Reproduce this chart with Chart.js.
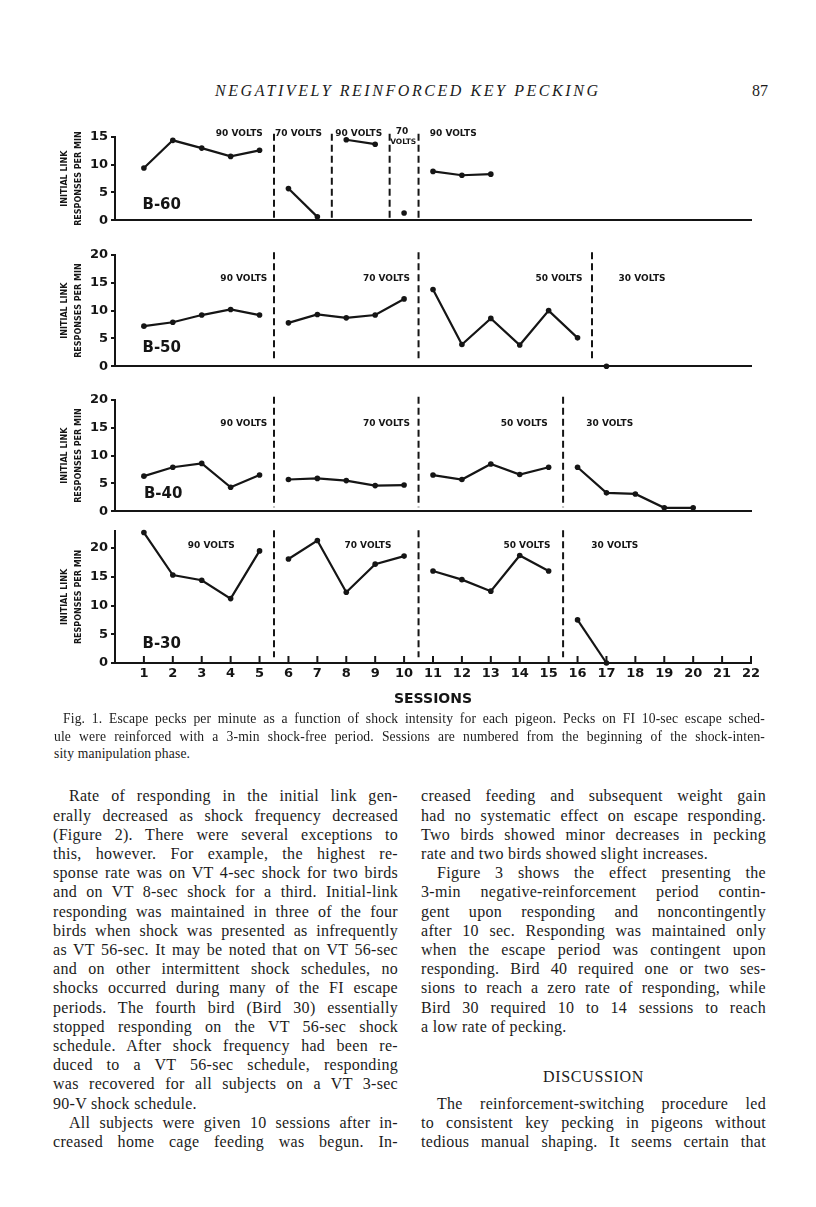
<!DOCTYPE html>
<html>
<head>
<meta charset="utf-8">
<script src="https://cdn.jsdelivr.net/npm/chart.js@4.4.1/dist/chart.umd.min.js"></script>
<style>
  body { margin: 0; background: #fff; }
  #page { position: relative; width: 816px; height: 1207px; overflow: hidden; background: #fff; color: #1b1b1b; font-family: "Liberation Serif", serif; }
  #page canvas { position: absolute; left: 0; }
  .ln { position: absolute; white-space: nowrap; }
  #runhead { position: absolute; left: 215px; top: 80px; font-style: italic; font-size: 16px; line-height: 22px; white-space: nowrap; }
  #folio { position: absolute; right: 48px; top: 80px; font-size: 16px; line-height: 22px; }
  #discussion { position: absolute; left: 421px; width: 345px; top: 1067px; text-align: center; font-size: 16px; letter-spacing: 0.7px; line-height: 20px; }
</style>
</head>
<body>
<div id="page">
  <div id="runhead">NEGATIVELY REINFORCED KEY PECKING</div>
  <div id="folio">87</div>
  <div id="discussion">DISCUSSION</div>
</div>
<script>
// Fig. 1 data: escape pecks per minute
const sessions = [1, 2, 3, 4, 5, 6, 7, 8, 9, 10, 11, 12, 13, 14, 15, 16, 17, 18, 19, 20, 21, 22];
const ticks15 = [0, 5, 10, 15];
const ticks20 = [0, 5, 10, 15, 20];

const b60Rate = [9.4, 14.4, 13.0, 11.5, 12.6, 5.7, 0.6, 14.5, 13.7, 1.3, 8.8, 8.1, 8.3];
const b50Rate = [7.2, 7.9, 9.2, 10.2, 9.2, 7.8, 9.3, 8.7, 9.2, 12.1, 13.8, 3.9, 8.6, 3.8, 10.0, 5.1, 0];
const b40Rate = [6.3, 7.9, 8.6, 4.3, 6.5, 5.7, 5.9, 5.5, 4.6, 4.7, 6.5, 5.7, 8.5, 6.6, 7.9, 7.9, 3.3, 3.1, 0.6, 0.6];
const b30Rate = [22.7, 15.3, 14.4, 11.2, 19.5, 18.1, 21.3, 12.3, 17.2, 18.6, 16.0, 14.5, 12.5, 18.7, 16.0, 7.5, 0];

// shock-intensity changes (dashed lines fall between sessions)
const b60Changes = [5.5, 7.5, 9.5, 10.5];
const b50Changes = [5.5, 10.5, 16.5];
const b40Changes = [5.5, 10.5, 15.5];
const b30Changes = [5.5, 10.5, 15.5];

const INK = '#151515';
Chart.defaults.font.family = '"DejaVu Sans", sans-serif';
Chart.defaults.color = INK;

const panels = [
  { name: 'B-60', values: b60Rate, changes: b60Changes, yMax: 15, yTicks: ticks15,
    top: 100, chartTop: 137, chartBottom: 225, dash: [15.6, 0.4], nameAt: [0.95, 2.7],
    volts: [
      { t: '90 VOLTS', x: 4.3, y: 15.6 }, { t: '70 VOLTS', x: 6.35, y: 15.6 },
      { t: '90 VOLTS', x: 8.43, y: 15.6 }, { t: '70', x: 9.93, y: 15.9 },
      { t: 'VOLTS', x: 9.97, y: 14.0, size: 7.5 }, { t: '90 VOLTS', x: 11.7, y: 15.6 }
    ] },
  { name: 'B-50', values: b50Rate, changes: b50Changes, yMax: 20, yTicks: ticks20,
    top: 235, chartTop: 255, chartBottom: 371, dash: [20.5, 0.9], nameAt: [0.95, 3.3],
    volts: [
      { t: '90 VOLTS', x: 5.27, y: 15.7, align: 'right' }, { t: '70 VOLTS', x: 10.2, y: 15.7, align: 'right' },
      { t: '50 VOLTS', x: 16.17, y: 15.7, align: 'right' }, { t: '30 VOLTS', x: 17.42, y: 15.7, align: 'left' }
    ] },
  { name: 'B-40', values: b40Rate, changes: b40Changes, yMax: 20, yTicks: ticks20,
    top: 382, chartTop: 400, chartBottom: 516, dash: [20.6, 0.7], nameAt: [1.0, 3.0],
    volts: [
      { t: '90 VOLTS', x: 5.27, y: 15.7, align: 'right' }, { t: '70 VOLTS', x: 10.2, y: 15.7, align: 'right' },
      { t: '50 VOLTS', x: 14.97, y: 15.7, align: 'right' }, { t: '30 VOLTS', x: 16.3, y: 15.7, align: 'left' }
    ] },
  { name: 'B-30', values: b30Rate, changes: b30Changes, yMax: 23, yTicks: ticks20,
    top: 520, chartTop: 529, chartBottom: 663, dash: [23.1, 1.0], nameAt: [0.95, 3.25], last: true,
    volts: [
      { t: '90 VOLTS', x: 3.33, y: 20.5 }, { t: '70 VOLTS', x: 8.75, y: 20.5 },
      { t: '50 VOLTS', x: 14.25, y: 20.5 }, { t: '30 VOLTS', x: 17.29, y: 20.5 }
    ] }
];

function marksPlugin(p) {
  return {
    id: 'marks',
    afterDatasetsDraw(chart) {
      const { ctx, scales: { x, y } } = chart;
      ctx.save();
      ctx.strokeStyle = INK;
      ctx.fillStyle = INK;
      // dashed condition boundaries
      ctx.lineWidth = 2;
      ctx.setLineDash([7, 4]);
      p.changes.forEach(c => {
        const px = x.getPixelForValue(c);
        ctx.beginPath();
        ctx.moveTo(px, y.getPixelForValue(p.dash[0]));
        ctx.lineTo(px, y.getPixelForValue(p.dash[1]));
        ctx.stroke();
      });
      ctx.setLineDash([]);
      // voltage labels
      ctx.textBaseline = 'middle';
      p.volts.forEach(v => {
        ctx.font = 'bold ' + (v.size || 9) + 'px "DejaVu Sans"';
        ctx.textAlign = v.align || 'center';
        ctx.fillText(v.t, x.getPixelForValue(v.x), y.getPixelForValue(v.y));
      });
      // bird label
      ctx.font = 'bold 15px "DejaVu Sans"';
      ctx.textAlign = 'left';
      ctx.fillText(p.name, x.getPixelForValue(p.nameAt[0]), y.getPixelForValue(p.nameAt[1]));
      // session ticks point up into the plot
      if (p.last) {
        ctx.lineWidth = 2;
        x.ticks.forEach(t => {
          const px = x.getPixelForValue(t.value);
          ctx.beginPath();
          ctx.moveTo(px, y.bottom);
          ctx.lineTo(px, y.bottom - 7);
          ctx.stroke();
        });
      }
      ctx.restore();
    }
  };
}

const page = document.getElementById('page');

panels.forEach(p => {
  const height = p.last ? 195 : p.chartBottom - p.top + 6;
  const xHeight = p.last ? height - (p.chartBottom - p.top) : 6;
  const cv = document.createElement('canvas');
  cv.width = 816;
  cv.height = height;
  cv.style.top = p.top + 'px';
  page.appendChild(cv);

  const crosses = c => p.changes.some(d => c.p0.parsed.x < d && c.p1.parsed.x > d);

  new Chart(cv, {
    type: 'line',
    data: {
      datasets: [{
        data: p.values.map((v, i) => ({ x: sessions[i], y: v })),
        borderColor: INK,
        borderWidth: 2.2,
        pointRadius: 2.8,
        pointBackgroundColor: INK,
        pointBorderWidth: 0,
        tension: 0,
        clip: false,
        segment: { borderColor: c => crosses(c) ? 'rgba(0,0,0,0)' : INK }
      }]
    },
    options: {
      responsive: false,
      animation: false,
      devicePixelRatio: 1,
      events: [],
      layout: { padding: { left: 0, right: 65, top: p.chartTop - p.top, bottom: 0 } },
      plugins: { legend: { display: false }, tooltip: { enabled: false } },
      scales: {
        x: {
          type: 'linear', min: 0, max: 22,
          afterBuildTicks: s => { s.ticks = sessions.map(v => ({ value: v })); },
          afterFit: s => { s.height = xHeight; },
          grid: { display: false, drawTicks: false },
          border: { display: true, color: INK, width: 2 },
          ticks: { display: !!p.last, padding: 3, font: { size: 13, weight: 'bold' }, color: INK, maxRotation: 0, autoSkip: false },
          title: { display: !!p.last, text: 'SESSIONS', font: { size: 14, weight: 'bold' }, color: INK, padding: { top: 0, bottom: 7 } }
        },
        y: {
          min: 0, max: p.yMax,
          afterBuildTicks: s => { s.ticks = p.yTicks.map(v => ({ value: v })); },
          afterFit: s => { s.width = 115; },
          grid: { display: true, drawOnChartArea: false, drawTicks: true, tickLength: 4, color: INK, lineWidth: 2 },
          border: { display: true, color: INK, width: 2 },
          ticks: { padding: 3, font: { size: 13, weight: 'bold' }, color: INK },
          title: {
            display: true, text: ['INITIAL LINK', 'RESPONSES PER MIN'],
            font: { size: 8, weight: 'bold', lineHeight: 1.75 }, color: INK,
            padding: { top: 58, bottom: 0 }
          }
        }
      }
    },
    plugins: [marksPlugin(p)]
  });
});

// caption and body text
const captionLines = [
  'Fig. 1. Escape pecks per minute as a function of shock intensity for each pigeon. Pecks on FI 10-sec escape sched-',
  'ule were reinforced with a 3-min shock-free period. Sessions are numbered from the beginning of the shock-inten-',
  'sity manipulation phase.'
];
const leftLines = [
  'Rate of responding in the initial link gen-',
  'erally decreased as shock frequency decreased',
  '(Figure 2). There were several exceptions to',
  'this, however. For example, the highest re-',
  'sponse rate was on VT 4-sec shock for two birds',
  'and on VT 8-sec shock for a third. Initial-link',
  'responding was maintained in three of the four',
  'birds when shock was presented as infrequently',
  'as VT 56-sec. It may be noted that on VT 56-sec',
  'and on other intermittent shock schedules, no',
  'shocks occurred during many of the FI escape',
  'periods. The fourth bird (Bird 30) essentially',
  'stopped responding on the VT 56-sec shock',
  'schedule. After shock frequency had been re-',
  'duced to a VT 56-sec schedule, responding',
  'was recovered for all subjects on a VT 3-sec',
  '90-V shock schedule.',
  'All subjects were given 10 sessions after in-',
  'creased home cage feeding was begun. In-'
];
const rightLines = [
  'creased feeding and subsequent weight gain',
  'had no systematic effect on escape responding.',
  'Two birds showed minor decreases in pecking',
  'rate and two birds showed slight increases.',
  'Figure 3 shows the effect presenting the',
  '3-min negative-reinforcement period contin-',
  'gent upon responding and noncontingently',
  'after 10 sec. Responding was maintained only',
  'when the escape period was contingent upon',
  'responding. Bird 40 required one or two ses-',
  'sions to reach a zero rate of responding, while',
  'Bird 30 required 10 to 14 sessions to reach',
  'a low rate of pecking.',
  null, null, null,
  'The reinforcement-switching procedure led',
  'to consistent key pecking in pigeons without',
  'tedious manual shaping. It seems certain that'
];

// each printed line is set on its own and justified by word spacing
function placeLines(lines, left, width, firstY, lh, size, track, indent, indents, ends) {
  lines.forEach((txt, i) => {
    if (txt === null) return;
    const d = document.createElement('div');
    d.className = 'ln';
    const s = document.createElement('span');
    s.textContent = txt;
    d.appendChild(s);
    const ind = indents.includes(i) ? indent : 0;
    d.style.left = (left + ind) + 'px';
    d.style.top = (firstY + i * lh - lh / 2) + 'px';
    d.style.fontSize = size + 'px';
    d.style.lineHeight = lh + 'px';
    d.style.letterSpacing = track + 'px';
    page.appendChild(d);
    if (!ends.includes(i)) {
      const gaps = txt.split(' ').length - 1;
      const natural = s.getBoundingClientRect().width;
      if (gaps > 0) d.style.wordSpacing = ((width - ind - natural) / gaps) + 'px';
    }
  });
}

placeLines(captionLines, 54, 711, 719, 17.5, 13.6, 0.15, 9, [0], [2]);
placeLines(leftLines, 53, 345, 796, 19.2, 16, 0.3, 16, [0, 17], [16]);
placeLines(rightLines, 421, 345, 796, 19.2, 16, 0.3, 16, [4, 16], [3, 12]);

// stretch the running head to its printed width
const rh = document.getElementById('runhead');
const natural = rh.getBoundingClientRect().width;
rh.style.letterSpacing = ((383 - natural) / (rh.textContent.length - 1)) + 'px';
</script>
</body>
</html>
